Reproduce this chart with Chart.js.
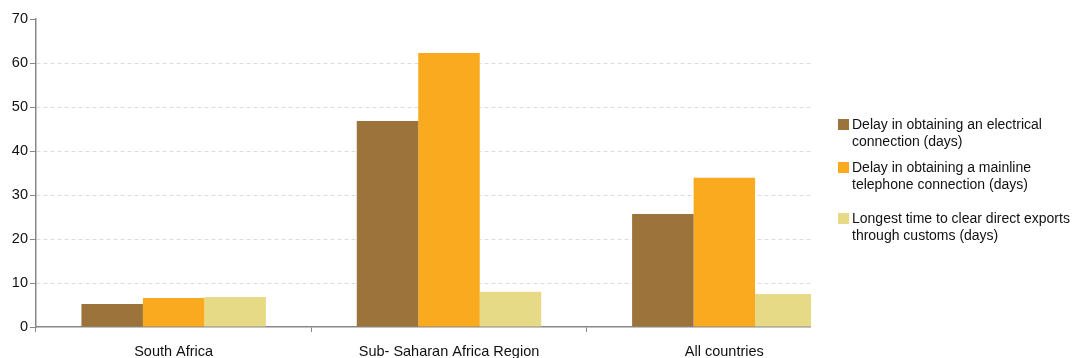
<!DOCTYPE html>
<html>
<head>
<meta charset="utf-8">
<script src="https://cdn.jsdelivr.net/npm/chart.js@4"></script>
<style>
  body { margin: 0; background: #fff; }
  #wrap { position: relative; width: 1073px; height: 358px; }
  #legend { position: absolute; left: 838px; top: 116px; font: 14px "Liberation Sans", Arial, sans-serif; color: #111; }
  .item { position: relative; padding-left: 14px; line-height: 17px; }
  .item span.box { position: absolute; left: 0; top: 3px; width: 11px; height: 11px; }
</style>
</head>
<body>
<div id="wrap">
  <canvas id="delayChart"></canvas>
  <div id="legend"></div>
</div>
<script>
const categories = ['South Africa', 'Sub- Saharan Africa Region', 'All countries'];
const seriesNames = [
    ['Delay in obtaining an electrical', 'connection (days)'],
    ['Delay in obtaining a mainline', 'telephone connection (days)'],
    ['Longest time to clear direct exports', 'through customs (days)']
];
const electrical = [5.2, 46.8, 25.7];
const telephone = [6.6, 62.3, 33.9];
const customs = [6.8, 8.0, 7.5];
const colors = ['#9C733A', '#F9AA1E', '#E6DA86'];

const ctx = document.getElementById('delayChart').getContext('2d');

// the reference plot is cut off at x=810, under the legend
const cropPlugin = {
    id: 'crop',
    afterDraw(chart) {
        const c = chart.ctx;
        c.save();
        c.fillStyle = '#fff';
        c.fillRect(811, 0, chart.chartArea.right - 811 + 5, chart.chartArea.bottom + 9);
        c.restore();
    }
};

new Chart(ctx, {
    type: 'bar',
    data: {
        labels: categories,
        datasets: [electrical, telephone, customs].map((d, i) => ({
            label: seriesNames[i].join(' '),
            data: d,
            backgroundColor: colors[i],
            categoryPercentage: 0.67,
            barPercentage: 1.0
        }))
    },
    options: {
        responsive: true,
        maintainAspectRatio: false,
        animation: false,
        layout: { padding: { top: 19, right: 211, left: 0, bottom: 0 } },
        plugins: { legend: { display: false }, tooltip: { enabled: false } },
        scales: {
            x: {
                afterFit: s => { s.height = 31; },
                grid: { display: true, drawOnChartArea: false, offset: true, tickLength: 5, tickColor: '#888' },
                border: { color: '#888', width: 1.5 },
                ticks: { color: '#111', padding: 11, font: { family: 'Liberation Sans', size: 14.5 } }
            },
            y: {
                min: 0, max: 70,
                afterFit: s => { s.width = 36; },
                ticks: { stepSize: 10, color: '#111', padding: 2, font: { family: 'Liberation Sans', size: 14.5 } },
                grid: {
                    color: c => (c.tick.value === 0 || c.tick.value === 70) ? 'rgba(0,0,0,0)' : '#dcdcdc',
                    tickLength: 6,
                    tickColor: '#888',
                    tickBorderDash: []
                },
                border: { color: '#888', width: 1.5, dash: [4, 3] }
            }
        }
    },
    plugins: [cropPlugin]
});

const legend = document.getElementById('legend');
const gaps = [0, 9, 17];
seriesNames.forEach((lines, i) => {
    const div = document.createElement('div');
    div.className = 'item';
    div.style.marginTop = gaps[i] + 'px';
    div.innerHTML = '<span class="box" style="background:' + colors[i] + '"></span>' + lines.join('<br>');
    legend.appendChild(div);
});
</script>
</body>
</html>
